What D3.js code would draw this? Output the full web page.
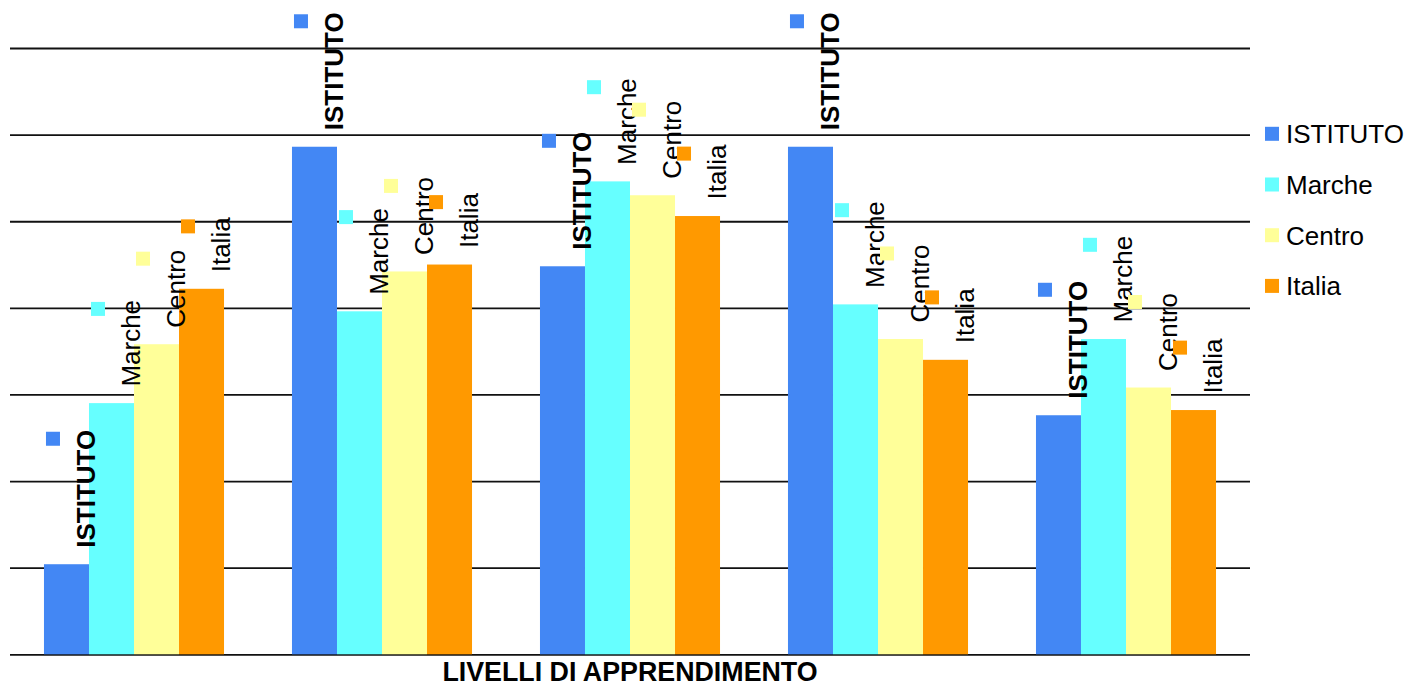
<!DOCTYPE html>
<html>
<head>
<meta charset="utf-8">
<script src="https://cdn.jsdelivr.net/npm/d3@7/dist/d3.min.js"></script>
<style>
  body { margin: 0; background: #fff; }
  svg { display: block; font-family: "Liberation Sans", Arial, sans-serif; }
</style>
</head>
<body>
<svg id="chart" width="1406" height="685"></svg>
<script>
const categories = ["Livello 1", "Livello 2", "Livello 3", "Livello 4", "Livello 5"];
const series = ["ISTITUTO", "Marche", "Centro", "Italia"];
const colors = ["#4387F4", "#66FFFF", "#FFFF99", "#FF9900"];
const istituto = [5.2, 29.3, 22.4, 29.3, 13.8];
const marche = [14.5, 19.8, 27.3, 20.2, 18.2];
const centro = [17.9, 22.1, 26.5, 18.2, 15.4];
const italia = [21.1, 22.5, 25.3, 17.0, 14.1];
const gridTicks = [0, 5, 10, 15, 20, 25, 30, 35];
const axisTitle = "LIVELLI DI APPRENDIMENTO";

const values = [istituto, marche, centro, italia];

const svg = d3.select("#chart");
const plotLeft = 10, plotRight = 1250, plotTop = 48, plotBottom = 654.3;

const x0 = d3.scaleBand().domain(categories).range([plotLeft, plotRight]);
const groupW = x0.bandwidth();
const x1 = d3.scaleBand().domain(series).range([groupW * 0.137, groupW * 0.863]);
const y = d3.scaleLinear().domain([0, 35]).range([plotBottom, plotTop]);
const color = d3.scaleOrdinal().domain(series).range(colors);

// gridlines
const grid = svg.append("g")
  .attr("transform", `translate(${plotLeft},0)`)
  .call(d3.axisLeft(y).tickValues(gridTicks).tickSize(-(plotRight - plotLeft)).tickFormat(""));
grid.select(".domain").remove();
grid.selectAll(".tick line").attr("stroke", "#111").attr("stroke-width", 1.8);

const data = [];
categories.forEach((c, i) => {
  series.forEach((s, j) => data.push({ cat: c, ser: s, val: values[j][i] }));
});

// bars
svg.append("g").selectAll("rect").data(data).join("rect")
  .attr("x", d => x0(d.cat) + x1(d.ser))
  .attr("y", d => y(d.val))
  .attr("width", x1.bandwidth())
  .attr("height", d => y(0) - y(d.val))
  .attr("fill", d => color(d.ser));

// labels
const lab = svg.append("g").selectAll("g").data(data).join("g");
lab.each(function(d) {
  const g = d3.select(this);
  const bx = x0(d.cat) + x1(d.ser);
  const by = y(d.val) - 16.5;
  const t = g.append("text")
    .attr("transform", `translate(${bx + 51},${by}) rotate(-90)`)
    .attr("font-size", 26)
    .attr("font-weight", d.ser === "ISTITUTO" ? "bold" : "normal")
    .attr("fill", "#000")
    .text(d.ser);
  const len = t.node().getComputedTextLength();
  g.append("rect")
    .attr("x", bx + 2)
    .attr("y", by - len + 2)
    .attr("width", 14).attr("height", 14)
    .attr("fill", color(d.ser));
});

// axis title
svg.append("text")
  .attr("x", (plotLeft + plotRight) / 2)
  .attr("y", 681)
  .attr("text-anchor", "middle")
  .attr("font-size", 26.8)
  .attr("font-weight", "bold")
  .text(axisTitle);

// legend
const leg = svg.append("g").selectAll("g").data(series).join("g")
  .attr("transform", (d, i) => `translate(1265,${143.3 + i * 50.7})`);
leg.append("rect").attr("x", 0).attr("y", -16.5).attr("width", 14).attr("height", 14)
  .attr("fill", d => color(d));
leg.append("text").attr("x", 21).attr("y", 0).attr("font-size", 26).text(d => d);
</script>
</body>
</html>
